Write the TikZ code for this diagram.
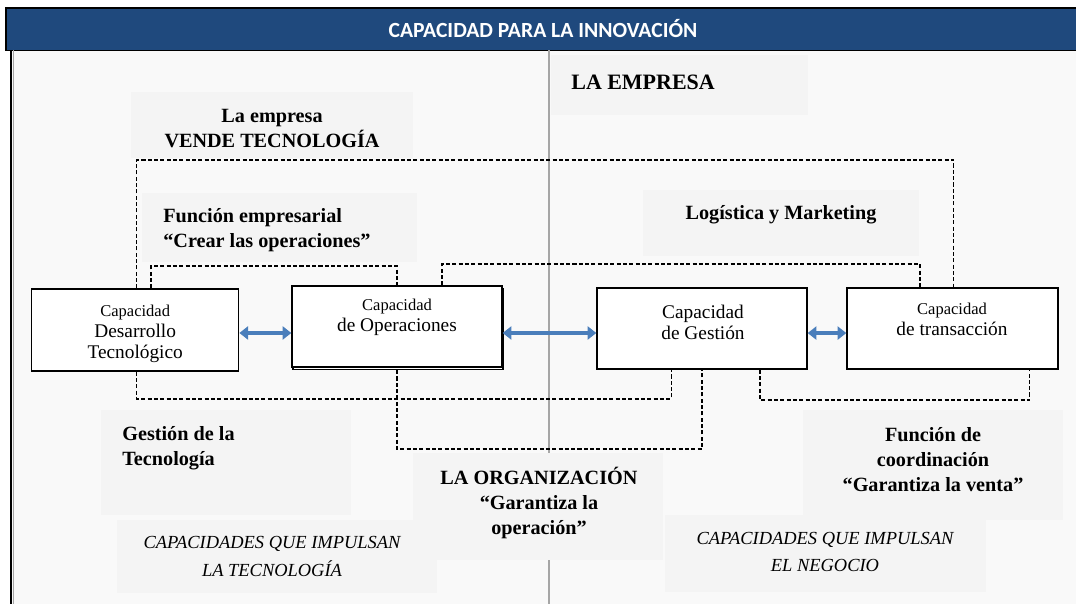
\documentclass[tikz,border=0pt]{standalone}
\usepackage{fontspec}
\setmainfont{Liberation Serif}
\newfontfamily\titlefont{Carlito}
\usetikzlibrary{arrows.meta,shadows}

\definecolor{azulcab}{HTML}{1F497D}
\definecolor{azulflecha}{HTML}{4A7EBB}
\definecolor{fondo}{HTML}{F9F9F9}
\definecolor{fondotxt}{HTML}{F4F4F4}
\definecolor{gris}{HTML}{A6A6A6}

\tikzset{
  capbox/.style={draw, fill=white, line width=0.8pt, inner sep=0pt},
  boxtxt/.style={font=\fontsize{11}{12}\selectfont, align=center, inner sep=0pt},
  rotulo/.style={font=\bfseries\fontsize{11.5}{14.2}\selectfont, align=center, inner sep=0pt},
  cursiva/.style={font=\itshape\fontsize{10.5}{15.4}\selectfont, align=center, inner sep=0pt},
  guion/.style={dash pattern=on 2.3pt off 1.3pt, line width=0.6pt},
  flecha/.style={azulflecha, line width=2pt,
    {Triangle[length=5pt,width=7.5pt]}-{Triangle[length=5pt,width=7.5pt]}},
}

\begin{document}
\begin{tikzpicture}[x=0.02cm, y=-0.02cm]
  \useasboundingbox (0,0) rectangle (1076,604);

  % fondo y cabecera
  \fill[fondo] (10,50) rectangle (1076,604);
  \draw[line width=0.8pt, fill=azulcab] (6,8) rectangle (1080,50.5);
  \node[font=\titlefont\bfseries\fontsize{12.3}{14}\selectfont, text=white] (titulo) at (543,29) {CAPACIDAD PARA LA INNOVACIÓN};
  \draw[line width=1.6pt] (11,50.5) -- (11,604);
  \draw[gris, line width=0.8pt] (13.5,50.5) -- (13.5,604);
  \draw[gris, line width=1.1pt] (549,50.5) -- (549,604);

  % fondos de los rotulos
  \fill[fondotxt] (551,55) rectangle (808,115);
  \fill[fondotxt] (131,92) rectangle (413,158);
  \fill[fondotxt] (142,193) rectangle (417,262);
  \fill[fondotxt] (643,190) rectangle (919,256);
  \fill[fondotxt] (101,410) rectangle (351,515);
  \fill[fondotxt] (413,453) rectangle (663,560);
  \fill[fondotxt] (803,410) rectangle (1063,520);
  \fill[fondotxt] (117,520) rectangle (437,593);
  \fill[fondotxt] (665,515) rectangle (986,592);

  % rotulos
  \node[rotulo, anchor=west, font=\bfseries\fontsize{12.5}{14}\selectfont] (empresa) at (571,82) {LA EMPRESA};
  \node[rotulo] (vende) at (272,129) {La empresa\\VENDE TECNOLOGÍA};
  \node[rotulo, anchor=west, align=left] (crear) at (163,230.5) {Función empresarial\\“Crear las operaciones”};
  \node[rotulo] (logistica) at (781,215) {Logística y Marketing};
  \node[rotulo, anchor=west, align=left] (gestiontec) at (122,448) {Gestión de la\\Tecnología};
  \node[rotulo] (organizacion) at (539,503) {LA ORGANIZACIÓN\\“Garantiza la\\operación”};
  \node[rotulo] (coordinacion) at (933,460) {Función de\\coordinación\\“Garantiza la venta”};
  \node[cursiva] (impulsatec) at (272,556.5) {CAPACIDADES QUE IMPULSAN\\LA TECNOLOGÍA};
  \node[cursiva] (impulsaneg) at (825,552) {CAPACIDADES QUE IMPULSAN\\EL NEGOCIO};

  % cajas de capacidades
  \node[capbox, minimum width=4.14cm, minimum height=1.64cm] (desarrollo) at (135.2,330) {};
  \node[capbox, copy shadow={shadow xshift=0.5pt, shadow yshift=-1.4pt, fill=white, draw=black, line width=0.8pt},
        minimum width=4.2cm, minimum height=1.62cm] (operaciones) at (397,326.5) {};
  \node[capbox, minimum width=4.2cm, minimum height=1.62cm] (gestion) at (702,328.5) {};
  \node[capbox, minimum width=4.22cm, minimum height=1.62cm] (transaccion) at (952.5,328.5) {};

  \node[boxtxt] (desarrollo-t) at (135.2,334) {{\fontsize{9.4}{12}\selectfont Capacidad}\\Desarrollo\\Tecnológico};
  \node[boxtxt] (operaciones-t) at (397,317.5) {{\fontsize{9.4}{12}\selectfont Capacidad}\\de Operaciones};
  \node[boxtxt] (gestion-t) at (703,322) {Capacidad\\de Gestión};
  \node[boxtxt] (transaccion-t) at (952,319.5) {{\fontsize{9.4}{12}\selectfont Capacidad}\\de transacción};

  % lineas de trazos
  \coordinate (vendetop) at (545,160);
  \coordinate (creartop) at (270,266);
  \coordinate (logtop) at (680,264);
  \coordinate (gestbot) at (400,399);
  \coordinate (orgbot) at (550,449);
  \coordinate (coordbot) at (900,400);
  \draw[guion] ([xshift=1pt]desarrollo.north) |- (vendetop) -| ([xshift=0.8pt]transaccion.north);
  \draw[guion] ([xshift=9pt]desarrollo.north) |- (creartop) -| (operaciones.north);
  \draw[guion] ([xshift=25.6pt]operaciones.north) |- (logtop) -| ([xshift=-18.5pt]transaccion.north);
  \draw[guion] ([xshift=1pt]desarrollo.south) |- (gestbot) -| ([xshift=-17.6pt]gestion.south);
  \draw[guion] ([yshift=-1.4pt]operaciones.south) |- (orgbot) -| (gestion.south);
  \draw[guion] ([xshift=33pt]gestion.south) |- (coordbot) -| ([xshift=44pt]transaccion.south);

  % flechas
  \draw[flecha] ([yshift=-1.7pt]desarrollo.east) -- ([yshift=-1.7pt]desarrollo.east -| operaciones.west);
  \draw[flecha] ([yshift=-3.7pt]operaciones.east) -- ([yshift=-3.7pt]operaciones.east -| gestion.west);
  \draw[flecha] ([yshift=-2.6pt]gestion.east) -- ([yshift=-2.6pt]gestion.east -| transaccion.west);
\end{tikzpicture}
\end{document}
